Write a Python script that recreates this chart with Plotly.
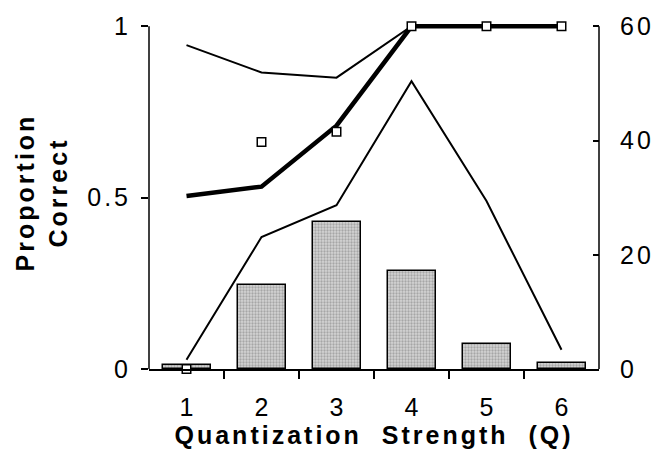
import plotly.graph_objects as go

# ---- data ----
Q = [1, 2, 3, 4, 5, 6]
x_tick_labels = ["1", "2", "3", "4", "5", "6"]
bar_counts = [0.7, 14.7, 25.7, 17.1, 4.3, 1.0]          # right axis (0-60)
upper_thin = [0.945, 0.865, 0.85, 1.0, 1.0, 1.0]        # left axis (0-1)
lower_thin = [0.027, 0.385, 0.478, 0.84, 0.49, 0.056]
mean_thick = [0.505, 0.532, 0.71, 1.0, 1.0, 1.0]
squares = [0.0, 0.662, 0.692, 1.0, 1.0, 1.0]
left_tickvals = [0, 0.5, 1]
left_ticktext = ["0", "0.5", "1"]
right_tickvals = [0, 20, 40, 60]
right_ticktext = ["0", "20", "40", "60"]
minor_x_ticks = [1.5, 2.5, 3.5, 4.5, 5.5]

FONT = "Liberation Sans"
LEFT_MAX = 1.03
RIGHT_MAX = 60 * LEFT_MAX

fig = go.Figure()
fig.add_bar(
    x=Q, y=bar_counts, yaxis="y", width=0.64,
    marker=dict(color="#c8c8c8",
                pattern=dict(shape=".", fgcolor="#777777", bgcolor="#d4d4d4",
                             size=3, solidity=0.45),
                line=dict(color="black", width=1.5)),
    showlegend=False,
)
fig.add_scatter(x=Q, y=upper_thin, yaxis="y2", mode="lines",
                line=dict(color="black", width=2), showlegend=False)
fig.add_scatter(x=Q, y=lower_thin, yaxis="y2", mode="lines",
                line=dict(color="black", width=2), showlegend=False)
fig.add_scatter(x=Q, y=mean_thick, yaxis="y2", mode="lines",
                line=dict(color="black", width=4.5), showlegend=False)
fig.add_scatter(x=Q, y=squares, yaxis="y2", mode="markers",
                marker=dict(symbol="square", size=8.5, color="white",
                            line=dict(color="black", width=1.5)),
                cliponaxis=False, showlegend=False)

# axis lines drawn only over the labelled range (0..1 and 0..60)
fig.add_shape(type="line", xref="paper", yref="y2", x0=0, x1=0,
              y0=left_tickvals[0], y1=left_tickvals[-1],
              line=dict(color="black", width=1.5))
fig.add_shape(type="line", xref="paper", yref="y", x0=1, x1=1,
              y0=right_tickvals[0], y1=right_tickvals[-1],
              line=dict(color="black", width=1.5))

fig.update_layout(
    width=660, height=456,
    margin=dict(l=149, r=60, t=15, b=84),
    paper_bgcolor="white", plot_bgcolor="white",
    font=dict(family=FONT, color="black", size=25),
    showlegend=False,
    bargap=0,
    xaxis=dict(
        range=[0.5, 6.5], tickmode="array", tickvals=Q, ticktext=x_tick_labels,
        ticks="", showline=True, linecolor="black", linewidth=1.5,
        showgrid=False, zeroline=False, ticklabelstandoff=15,
        tickfont=dict(family=FONT, size=25),
        minor=dict(tickmode="array", tickvals=minor_x_ticks, ticks="outside",
                   ticklen=8, tickwidth=1.5, tickcolor="black", showgrid=False),
        title=dict(text="Quantization  Strength  (Q)",
                   font=dict(family=FONT, size=25, weight="bold"), standoff=6),
    ),
    yaxis=dict(
        side="right", range=[0, RIGHT_MAX], tickmode="array",
        tickvals=right_tickvals, ticktext=right_ticktext, ticks="inside",
        ticklen=6, tickwidth=1.5, tickcolor="black", showline=False,
        showgrid=False, zeroline=False, ticklabelstandoff=20,
        tickfont=dict(family=FONT, size=25),
    ),
    yaxis2=dict(
        overlaying="y", side="left", range=[0, LEFT_MAX], tickmode="array",
        tickvals=left_tickvals, ticktext=left_ticktext, ticks="outside",
        ticklen=7, tickwidth=1.5, tickcolor="black", showline=False,
        showgrid=False, zeroline=False,
        ticklabelstandoff=5, tickfont=dict(family=FONT, size=25),
        title=dict(text="Proportion<br>Correct",
                   font=dict(family=FONT, size=25, weight="bold"), standoff=21),
    ),
)

# wide tracking of the original typesetting
post = """
var gd = document.getElementById('{plot_id}');
gd.querySelectorAll('text.xtitle, text.ytitle, text.y2title').forEach(function(t){
    t.style.letterSpacing = '3px';
});
gd.querySelectorAll('.ytick text, .y2tick text').forEach(function(t){
    t.style.letterSpacing = '3px';
});
"""
fig.write_html("out.html", post_script=post)
